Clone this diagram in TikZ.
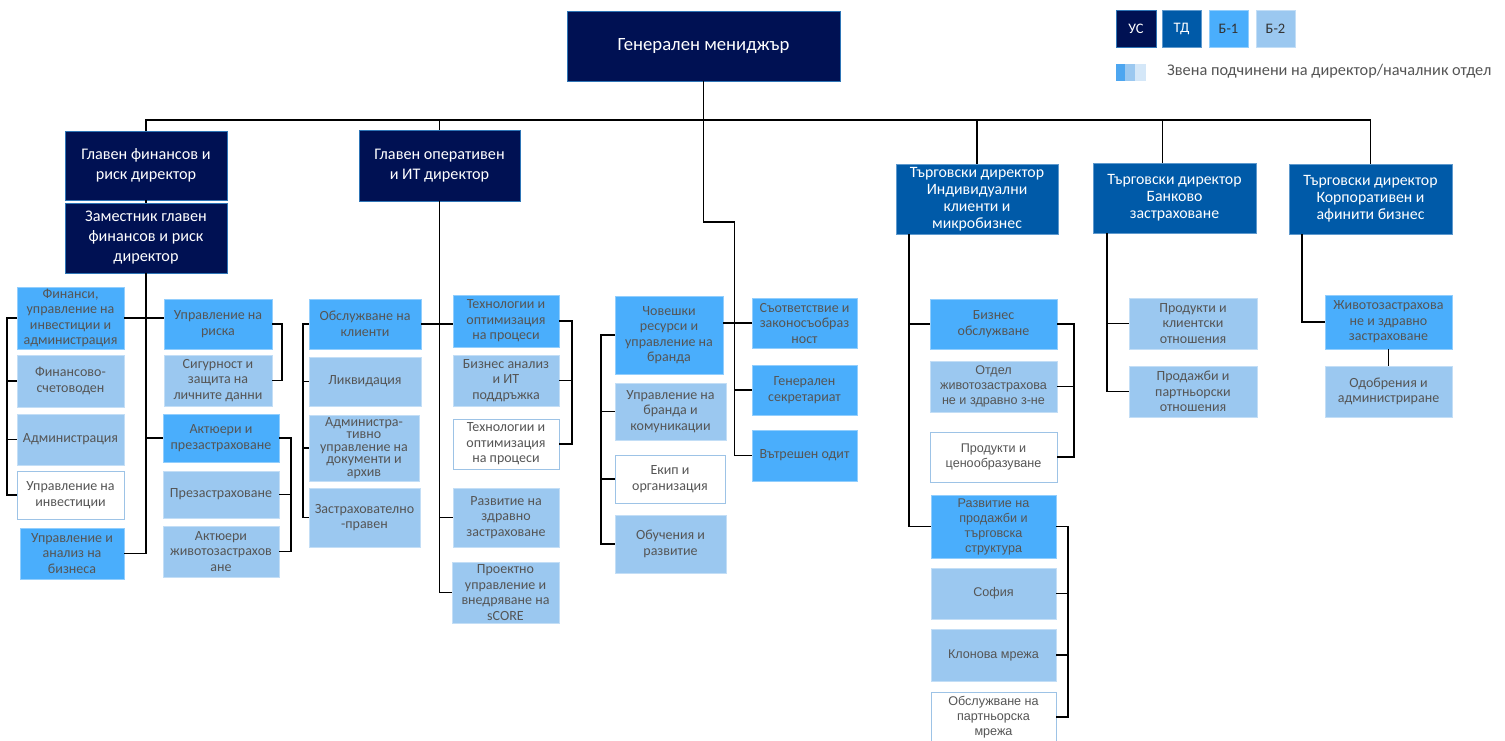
\documentclass[tikz,border=0pt]{standalone}
\usepackage{fontspec}
\setmainfont{Carlito}
\newfontfamily\arialf{Liberation Sans}
\definecolor{cUS}{RGB}{0,17,83}
\definecolor{cTD}{RGB}{0,90,168}
\definecolor{cBone}{RGB}{74,174,252}
\definecolor{cBtwo}{RGB}{155,200,240}
\definecolor{cBthree}{RGB}{212,231,248}
\definecolor{cTxt}{RGB}{85,85,85}
\definecolor{cEdge}{RGB}{157,195,230}
\definecolor{cUSedge}{RGB}{46,117,182}
\definecolor{cLeg}{RGB}{77,166,240}
\newcommand\bx[7]{\node[#2,minimum width={(#5)-(#3)},minimum height={(#6)-(#4)}] (#1) at ({((#3)+(#5))/2},{((#4)+(#6))/2}) {#7};}
\begin{document}
\begin{tikzpicture}[x=1pt,y=-1pt,
  sBase/.style={rectangle,inner sep=0pt,outer sep=0pt,align=center,line width=0.7pt},
  sUS/.style={sBase,fill=cUS,draw=cUSedge,text=white,font=\fontsize{16.2}{20}\selectfont},
  sTD/.style={sBase,fill=cTD,draw=cEdge!60!cTD,text=white,font=\fontsize{15.8}{17}\selectfont},
  sB1/.style={sBase,fill=cBone,draw=cBone!60!white,text=cTxt,font=\fontsize{14}{15.5}\selectfont},
  sB2/.style={sBase,fill=cBtwo,draw=cBtwo!60!white,text=cTxt,font=\fontsize{14}{15.5}\selectfont},
  sW/.style={sBase,fill=white,draw=cEdge,line width=1pt,text=cTxt,font=\fontsize{14}{15.5}\selectfont},
  sAr/.style={font=\arialf\fontsize{12.6}{15}\selectfont},
  conn/.style={line width=1.7pt,black}]
\useasboundingbox (0,0) rectangle (1505,740);
\fill[white] (0,0) rectangle (1505,740);

% top
\bx{gm}{sUS,font=\fontsize{18.7}{22}\selectfont}{567}{11}{840}{81}{Генерален мениджър}

% legend
\bx{lUS}{sUS,font=\fontsize{14.5}{16}\selectfont}{1116}{10}{1156}{47}{УС}
\bx{lTD}{sTD,font=\fontsize{14.5}{16}\selectfont}{1162}{10}{1201}{47}{ТД}
\bx{lBone}{sB1,text=black!80,font=\fontsize{14.5}{16}\selectfont}{1209}{10}{1248}{47}{Б-1}
\bx{lBtwo}{sB2,text=black!80,font=\fontsize{14.5}{16}\selectfont}{1256}{10}{1295}{47}{Б-2}
\fill[cLeg] (1116,64) rectangle (1125,81);
\fill[cBtwo] (1125,64) rectangle (1135,81);
\fill[cBthree] (1135,64) rectangle (1146,81);
\node[anchor=west,inner sep=0pt,text=cTxt,font=\fontsize{16.3}{20}\selectfont] (lgtxt) at (1167,71) {Звена подчинени на директор/началник отдел};

% directors
\bx{gfin}{sUS}{65}{131}{227}{200}{Главен финансов и\\риск директор}
\bx{zam}{sUS}{65}{203}{227}{273}{Заместник главен\\финансов и риск\\директор}
\bx{gop}{sUS}{359}{130}{520}{201}{Главен оперативен\\и ИТ директор}
\bx{ind}{sTD}{896}{164}{1058}{234}{Търговски директор\\Индивидуални\\клиенти и\\микробизнес}
\bx{bank}{sTD}{1093}{163}{1256}{233}{Търговски директор\\Банково\\застраховане}
\bx{korp}{sTD}{1289}{164}{1452}{234}{Търговски директор\\Корпоративен и\\афинити бизнес}

% finance
\bx{fin}{sB1}{17}{287}{124}{349}{Финанси,\\управление на\\инвестиции и\\администрация}
\bx{fsch}{sB2}{17}{355}{124}{407}{Финансово-\\счетоводен}
\bx{adm}{sB2}{17}{414}{124}{465}{Администрация}
\bx{inv}{sW}{17}{471}{124}{519}{Управление на\\инвестиции}
\bx{uab}{sB1}{20}{528}{124}{579}{Управление и\\анализ на\\бизнеса}
\bx{risk}{sB1}{164}{299}{272}{349}{Управление на\\риска}
\bx{sig}{sB2}{164}{355}{272}{406}{Сигурност и\\защита на\\личните данни}
\bx{akt}{sB1}{163}{414}{279}{462}{Актюери и\\презастраховане}
\bx{prez}{sB2}{163}{471}{279}{518}{Презастраховане}
\bx{aktj}{sB2}{163}{526}{279}{577}{Актюери\\животозастрахов\\ане}

% operations
\bx{obsl}{sB1}{309}{299}{421}{349}{Обслужване на\\клиенти}
\bx{likv}{sB2}{309}{357}{421}{406}{Ликвидация}
\bx{admt}{sB2,font=\fontsize{14}{12.5}\selectfont}{309}{415}{419}{481}{Администра-\\тивно\\управление на\\документи и\\архив}
\bx{zastr}{sB2}{309}{488}{420}{547}{Застрахователно\\-правен}
\bx{tech}{sB1}{453}{295}{559}{347}{Технологии и\\оптимизация\\на процеси}
\bx{ba}{sB2}{453}{355}{559}{406}{Бизнес анализ\\и ИТ\\поддръжка}
\bx{techw}{sW}{453}{419}{559}{469}{Технологии и\\оптимизация\\на процеси}
\bx{razv}{sB2}{453}{488}{559}{547}{Развитие на\\здравно\\застраховане}
\bx{proekt}{sB2}{452}{562}{559}{623}{Проектно\\управление и\\внедряване на\\sCORE}

% middle
\bx{chov}{sB1}{615}{296}{723}{374}{Човешки\\ресурси и\\управление на\\бранда}
\bx{brand}{sB2}{615}{383}{726}{440}{Управление на\\бранда и\\комуникации}
\bx{ekip}{sW}{615}{455}{725}{503}{Екип и\\организация}
\bx{obuch}{sB2}{615}{515}{726}{573}{Обучения и\\развитие}
\bx{sat}{sB1}{752}{298}{857}{348}{Съответствие и\\законосъобраз\\ност}
\bx{sek}{sB1}{752}{365}{857}{415}{Генерален\\секретариат}
\bx{odit}{sB1}{752}{430}{857}{481}{Вътрешен одит}

% individual
\bx{biz}{sB1}{930}{299}{1057}{349}{Бизнес\\обслужване}
\bx{otd}{sB2,sAr}{930}{361}{1057}{412}{Отдел\\животозастрахова\\не и здравно з-не}
\bx{prodc}{sW,sAr}{930}{432}{1057}{482}{Продукти и\\ценообразуване}
\bx{razvp}{sB1,sAr}{931}{495}{1056}{558}{Развитие на\\продажби и\\търговска\\структура}
\bx{sof}{sB2,sAr}{931}{568}{1056}{619}{София}
\bx{klon}{sB2,sAr}{931}{629}{1056}{681}{Клонова мрежа}
\bx{obp}{sW,sAr}{931}{692}{1056}{742}{Обслужване на\\партньорска\\мрежа}

% bank
\bx{prodk}{sB2}{1129}{298}{1257}{349}{Продукти и\\клиентски\\отношения}
\bx{prodp}{sB2}{1129}{366}{1257}{417}{Продажби и\\партньорски\\отношения}

% corporate
\bx{zhiv}{sB1}{1325}{295}{1452}{349}{Животозастрахова\\не и здравно\\застраховане}
\bx{odob}{sB2}{1325}{366}{1452}{417}{Одобрения и\\администриране}

% helper coordinates
\coordinate (bus) at ([yshift=-39pt]gm.south);
\coordinate (k1) at ([yshift=-141pt]gm.south);
\coordinate (k2) at ([xshift=31pt]k1);
\coordinate (bankt) at ([xshift=-12pt]bank.north);
\coordinate (indv) at ([xshift=13pt]ind.south west);
\coordinate (bankv) at ([xshift=14pt]bank.south west);
\coordinate (korpv) at ([xshift=13pt]korp.south west);

% connectors: top
\draw[conn] (gfin.north) -- (gfin.north |- bus) -- (korp.north |- bus) -- (korp.north);
\draw[conn] (gop.north |- bus) -- (gop.north);
\draw[conn] (ind.north |- bus) -- (ind.north);
\draw[conn] (bankt |- bus) -- (bankt);
\draw[conn] (gm.south) -- (k1) -- (k2) |- (odit.west);
\draw[conn] (k2 |- sek.west) -- (sek.west);
\draw[conn] (sat.west) -- (sat.west -| chov.east);

% finance
\draw[conn] (gfin.south) -- (zam.north);
\draw[conn] (zam.south) |- (uab.east);
\draw[conn] (fin.east) -- (fin.east -| risk.west);
\draw[conn] (zam.south |- akt.west) -- (akt.west);
\draw[conn] (fin.west) -- ++(-10,0) |- (inv.west);
\draw[conn] (fsch.west) -- ++(-10,0);
\draw[conn] (adm.west) -- ++(-10,0);
\draw[conn] (risk.east) -- ++(10,0) |- (sig.east);
\draw[conn] (akt.east) -- ++(12,0) |- (aktj.east);
\draw[conn] (prez.east) -- ++(12,0);

% operations
\draw[conn] (gop.south) |- (proekt.west);
\draw[conn] (gop.south |- razv.west) -- (razv.west);
\draw[conn] (obsl.east) -- (obsl.east -| tech.west);
\draw[conn] (obsl.west) -- ++(-6,0) |- (zastr.west);
\draw[conn] (likv.west) -- ++(-6,0);
\draw[conn] (admt.west) -- ++(-6,0);
\draw[conn] (tech.east) -- ++(13,0) |- (techw.east);
\draw[conn] (ba.east) -- ++(13,0);

% middle
\draw[conn] (chov.west) -- ++(-14,0) |- (obuch.west);
\draw[conn] (brand.west) -- ++(-14,0);
\draw[conn] (ekip.west) -- ++(-14,0);

% individual
\draw[conn] (indv) |- (razvp.west);
\draw[conn] (indv |- biz.west) -- (biz.west);
\draw[conn] (biz.east) -- ++(17,0) |- (prodc.east);
\draw[conn] (otd.east) -- ++(17,0);
\draw[conn] (razvp.east) -- ++(12,0) |- (obp.east);
\draw[conn] (sof.east) -- ++(12,0);
\draw[conn] (klon.east) -- ++(12,0);

% bank & corporate
\draw[conn] (bankv) |- (prodp.west);
\draw[conn] (bankv |- prodk.west) -- (prodk.west);
\draw[conn] (korpv) |- (zhiv.west);
\draw[conn] (zhiv.south) -- (odob.north);
\end{tikzpicture}
\end{document}
